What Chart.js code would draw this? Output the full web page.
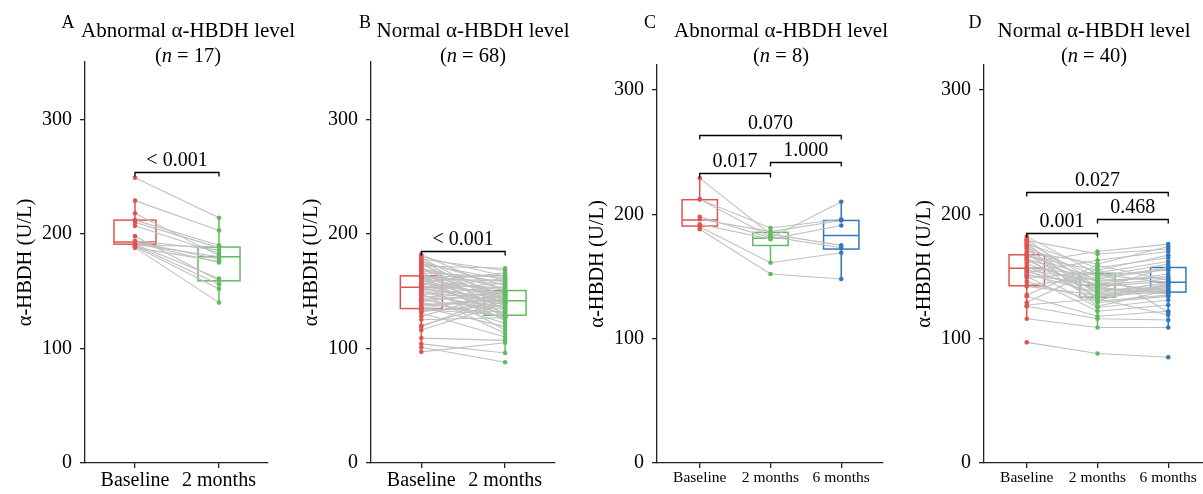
<!DOCTYPE html>
<html lang="en">
<head>
    <meta charset="UTF-8">
    <title>α-HBDH level before and after</title>
    <script src="https://cdn.jsdelivr.net/npm/chart.js"></script>
    <style>
        html, body { margin: 0; padding: 0; background: #fff; overflow: hidden; }
        body { width: 1203px; height: 494px; position: relative; }
        canvas { position: absolute; top: 0; }
    </style>
</head>
<body>
<canvas id="chartA"></canvas>
<canvas id="chartB"></canvas>
<canvas id="chartC"></canvas>
<canvas id="chartD"></canvas>

<script>
    // categories and axis ticks
    const groupsAB = ['Baseline', '2 months'];
    const groupsCD = ['Baseline', '2 months', '6 months'];
    const yTicks = [0, 100, 200, 300];

    // A: abnormal level, n = 17
    const baselineA = [249, 229, 218, 212, 210, 207, 198, 194, 193, 192, 191, 191, 190, 190, 189, 188, 188];
    const month2A = [214, 203, 181, 190, 188, 183, 159, 186, 178, 175, 180, 161, 189, 156, 152, 176, 140];
    // box stats per group: [q1, median, q3, whisker low, whisker high]
    const boxA = [[191, 193, 212, 188, 229], [159, 180, 188.5, 140, 214]];
    const pvalA = [[1, 2, 254, '< 0.001']];

    // B: normal level, n = 68
    const baselineB = [182, 180, 179, 178, 177, 176, 175, 174, 173, 172, 171, 170, 169, 168, 167, 166, 165,
        164, 163, 163, 162, 162, 161, 161, 160, 160, 159, 158, 158, 157, 156, 156, 155, 154,
        153, 153, 152, 152, 151, 150, 149, 148, 147, 146, 145, 144, 143, 142, 141, 140, 138,
        137, 136, 135, 135, 134, 133, 132, 131, 128, 125, 120, 119, 116, 109, 104, 101, 97];
    const month2B = [150, 163, 141, 168, 137, 155, 129, 160, 146, 170, 133, 152, 144, 158, 127, 162, 139,
        148, 156, 124, 164, 143, 135, 159, 128, 151, 145, 166, 131, 147, 116, 153, 140, 149,
        138, 161, 126, 144, 157, 130, 142, 113, 154, 136, 148, 122, 145, 134, 150, 128, 143,
        142, 119, 146, 132, 129, 137, 140, 110, 149, 127, 141, 147, 139, 107, 96, 88, 105];
    const boxB = [[134.8, 153.4, 163.3, 97, 182], [129, 141.7, 150.5, 96, 170]];
    const pvalB = [[1, 2, 185.4, '< 0.001']];

    // C: abnormal level, n = 8
    const baselineC = [229, 212, 212, 198, 196, 192, 190, 188];
    const month2C = [184, 182, 189, 181, 186, 180, 161, 152];
    const month6C = [175, 173, 196, 210, 195, 191, 169, 148];
    const boxC = [[190.5, 195.3, 211.7, 188, 229], [174.9, 180.8, 185.4, 160.8, 189], [172, 183, 195, 148, 210]];
    const pvalC = [[1, 3, 264, '0.070'], [1, 2, 232.8, '0.017'], [2, 3, 242, '1.000']];

    // D: normal level, n = 40
    const baselineD = [182, 180, 179, 178, 177, 176, 175, 174, 173, 172, 170, 169, 168, 167, 166, 165, 164, 163, 161, 160,
        158, 157, 156, 155, 154, 153, 152, 151, 150, 149, 146, 143, 142, 135, 134, 129, 127, 126, 116, 97];
    const month2D = [152, 139, 168, 145, 131, 157, 142, 126, 150, 136, 160, 141, 133, 148, 155, 129, 146, 138, 170, 143,
        134, 151, 125, 147, 140, 163, 137, 144, 122, 153, 130, 149, 135, 159, 118, 156, 132, 116, 109, 88];
    const month6D = [145, 158, 172, 138, 143, 165, 146, 139, 160, 141, 174, 137, 144, 156, 167, 134, 150, 142, 176, 148,
        138, 155, 131, 149, 136, 170, 145, 152, 127, 162, 135, 157, 140, 147, 122, 121, 119, 115, 109, 85];
    const boxD = [[142.5, 156.5, 167.4, 115.5, 181.5], [133.3, 143, 152.5, 108.5, 170.5], [137.4, 145.3, 157.2, 109, 176.3]];
    const pvalD = [[1, 3, 217.6, '0.027'], [1, 2, 185.1, '0.001'], [2, 3, 196.4, '0.468']];

    const SERIF = '"Liberation Serif", "Times New Roman", serif';
    const AXIS = '#222';
    const GREY = 'rgb(192,192,192)';
    const groupColors = ['rgb(222,84,84)', 'rgb(98,186,96)', 'rgb(50,120,188)'];

    function makePanel(p) {
        const canvas = document.getElementById(p.id);
        canvas.width = p.width;
        canvas.height = 494;
        canvas.style.left = p.left + 'px';

        const datasets = [];
        // dots on top
        p.series.forEach((vals, g) => {
            datasets.push({
                data: vals.map(v => ({x: g + 1, y: v})),
                backgroundColor: groupColors[g],
                borderWidth: 0,
                pointRadius: 2.3,
                order: 0
            });
        });
        // one grey line per subject
        for (let i = 0; i < p.series[0].length; i++) {
            datasets.push({
                data: p.series.map((vals, g) => ({x: g + 1, y: vals[i]})),
                showLine: true,
                borderColor: GREY,
                borderWidth: 1.1,
                pointRadius: 0,
                order: 1
            });
        }

        const extras = {
            id: 'extras',
            beforeDatasetsDraw(chart) {
                const {ctx, scales: {x, y}} = chart;
                ctx.save();
                ctx.lineWidth = 1.5;
                p.boxes.forEach((st, g) => {
                    const [q1, med, q3, lo, hi] = st;
                    const cx = x.getPixelForValue(g + 1);
                    const half = x.getPixelForValue(g + 1.25) - cx;
                    ctx.strokeStyle = groupColors[g];
                    ctx.beginPath();
                    ctx.moveTo(cx, y.getPixelForValue(hi));
                    ctx.lineTo(cx, y.getPixelForValue(q3));
                    ctx.moveTo(cx, y.getPixelForValue(q1));
                    ctx.lineTo(cx, y.getPixelForValue(lo));
                    ctx.moveTo(cx - half, y.getPixelForValue(med));
                    ctx.lineTo(cx + half, y.getPixelForValue(med));
                    ctx.stroke();
                    ctx.strokeRect(cx - half, y.getPixelForValue(q3), 2 * half,
                        y.getPixelForValue(q1) - y.getPixelForValue(q3));
                });
                ctx.restore();
            },
            afterDraw(chart) {
                const {ctx, scales: {x, y}} = chart;
                ctx.save();
                ctx.fillStyle = '#000';
                ctx.strokeStyle = '#000';
                ctx.lineWidth = 1.3;
                ctx.textAlign = 'center';
                ctx.textBaseline = 'alphabetic';
                ctx.font = '20px ' + SERIF;
                // significance brackets
                p.pvals.forEach(([a, b, v, label]) => {
                    const x1 = x.getPixelForValue(a);
                    const x2 = x.getPixelForValue(b);
                    const yy = Math.round(y.getPixelForValue(v)) + 0.5;
                    ctx.beginPath();
                    ctx.moveTo(x1, yy + 4);
                    ctx.lineTo(x1, yy);
                    ctx.lineTo(x2, yy);
                    ctx.lineTo(x2, yy + 4);
                    ctx.stroke();
                    ctx.fillText(label, (x1 + x2) / 2, yy - 7);
                });

                // panel title, n with italic letter
                ctx.font = '21px ' + SERIF;
                ctx.fillText(p.title, p.titleX, 37);
                const pieces = [['(', ''], ['n', 'italic '], [' = ' + p.n + ')', '']];
                let total = 0;
                pieces.forEach(([t, st]) => {
                    ctx.font = st + '20.5px ' + SERIF;
                    total += ctx.measureText(t).width;
                });
                let cur = p.titleX - total / 2;
                ctx.textAlign = 'left';
                pieces.forEach(([t, st]) => {
                    ctx.font = st + '20.5px ' + SERIF;
                    ctx.fillText(t, cur, 62);
                    cur += ctx.measureText(t).width;
                });
                ctx.textAlign = 'center';
                ctx.font = '18px ' + SERIF;
                ctx.fillText(p.letter, p.letterX, 28);
                ctx.restore();
            }
        };

        const axisGrid = {drawOnChartArea: false, drawTicks: true, tickLength: 5, color: AXIS, lineWidth: 1.3};
        const axisBorder = {display: true, color: AXIS, width: 1.3};

        return new Chart(canvas, {
            type: 'scatter',
            data: {datasets: datasets},
            options: {
                responsive: false,
                animation: false,
                events: [],
                layout: {padding: {top: p.top, right: p.rightPad, left: 0, bottom: 0}},
                plugins: {legend: {display: false}, tooltip: {enabled: false}},
                scales: {
                    x: {
                        type: 'linear',
                        min: p.xMin,
                        max: p.xMax,
                        afterFit: s => { s.height = 31; },
                        afterBuildTicks: s => { s.ticks = p.groups.map((g, i) => ({value: i + 1})); },
                        ticks: {
                            callback: v => p.groups[v - 1],
                            font: {family: SERIF, size: p.xFont},
                            color: '#000',
                            padding: 1,
                            maxRotation: 0,
                            autoSkip: false
                        },
                        grid: axisGrid,
                        border: axisBorder
                    },
                    y: {
                        type: 'linear',
                        min: 0,
                        max: p.yMax,
                        afterFit: s => { s.width = 85; },
                        afterBuildTicks: s => { s.ticks = yTicks.map(v => ({value: v})); },
                        ticks: {font: {family: SERIF, size: 20}, color: '#000', padding: 8},
                        grid: axisGrid,
                        border: axisBorder,
                        title: {
                            display: true,
                            text: 'α-HBDH (U/L)',
                            font: {family: SERIF, size: 20.5},
                            color: '#000',
                            padding: {top: 13, bottom: 0}
                        }
                    }
                }
            },
            plugins: [extras]
        });
    }

    makePanel({
        id: 'chartA', left: 0, width: 300, rightPad: 32, top: 62, yMax: 350, xMin: 0.405, xMax: 2.583,
        groups: groupsAB, xFont: 20, series: [baselineA, month2A], boxes: boxA, pvals: pvalA,
        title: 'Abnormal α-HBDH level', n: 17, titleX: 188, letter: 'A', letterX: 68
    });
    makePanel({
        id: 'chartB', left: 286, width: 314, rightPad: 45, top: 62, yMax: 350, xMin: 0.40, xMax: 2.595,
        groups: groupsAB, xFont: 20, series: [baselineB, month2B], boxes: boxB, pvals: pvalB,
        title: 'Normal α-HBDH level', n: 68, titleX: 187, letter: 'B', letterX: 79
    });
    makePanel({
        id: 'chartC', left: 572, width: 328, rightPad: 17, top: 65, yMax: 320, xMin: 0.396, xMax: 3.59,
        groups: groupsCD, xFont: 15.5, series: [baselineC, month2C, month6C], boxes: boxC, pvals: pvalC,
        title: 'Abnormal α-HBDH level', n: 8, titleX: 209, letter: 'C', letterX: 78
    });
    makePanel({
        id: 'chartD', left: 899, width: 320, rightPad: 9, top: 65, yMax: 320, xMin: 0.396, xMax: 3.59,
        groups: groupsCD, xFont: 15.5, series: [baselineD, month2D, month6D], boxes: boxD, pvals: pvalD,
        title: 'Normal α-HBDH level', n: 40, titleX: 195, letter: 'D', letterX: 76
    });
</script>
</body>
</html>
